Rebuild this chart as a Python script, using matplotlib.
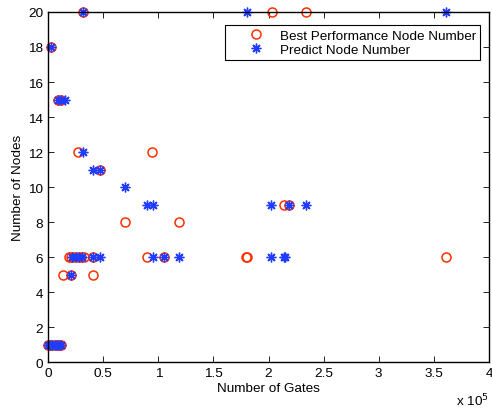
import numpy as np
import matplotlib.pyplot as plt

plt.rcParams['font.family'] = ['Liberation Sans', 'DejaVu Sans']

# best performing node count per circuit (gate count, nodes)
best_gates = [32000, 203000, 234000,
              2700,
              11500, 9000,
              27000, 94500,
              47000,
              214000, 219000,
              70000, 118500,
              19000, 21000, 24000, 27000, 30000, 33000, 41000, 89700, 105000, 180600, 180000, 361000,
              13300, 20600, 41000,
              0, 2000, 4000, 6000, 8000, 10000, 12000]
best_nodes = [20, 20, 20,
              18,
              15, 15,
              12, 12,
              11,
              9, 9,
              8, 8,
              6, 6, 6, 6, 6, 6, 6, 6, 6, 6, 6, 6,
              5, 5, 5,
              1, 1, 1, 1, 1, 1, 1]

# predicted node count per circuit
pred_gates = [32000, 180600, 361000,
              2700,
              9000, 12000, 15000,
              32000,
              41000, 47000,
              70000,
              89700, 95200, 202000, 219000, 234000,
              22000, 25000, 28000, 31000, 41000, 47000, 95200, 105000, 118500, 202000, 214000, 215000,
              20600,
              0, 2000, 4000, 6000, 8000, 10000, 12000]
pred_nodes = [20, 20, 20,
              18,
              15, 15, 15,
              12,
              11, 11,
              10,
              9, 9, 9, 9, 9,
              6, 6, 6, 6, 6, 6, 6, 6, 6, 6, 6, 6,
              5,
              1, 1, 1, 1, 1, 1, 1]

fs = 9.7

fig = plt.figure(figsize=(4.92, 4.10), dpi=100)
ax = fig.add_axes([0.0976, 0.1146, 0.8964, 0.8537])

ax.plot(np.array(best_gates) / 1e5, best_nodes, 'o', mfc='none', mec='#ff3000',
        ms=6.5, mew=1.1, label='Best Performance Node Number', clip_on=False)
ax.plot(np.array(pred_gates) / 1e5, pred_nodes, ls='none', marker=(8, 2, 0), color='#1f3cff',
        ms=7, mew=1.0, label='Predict Node Number', clip_on=False)

ax.set_xlim(0, 4)
ax.set_ylim(0, 20)
ax.set_xticks(np.arange(0, 4.01, 0.5))
ax.set_xticklabels(['0', '0.5', '1', '1.5', '2', '2.5', '3', '3.5', '4'])
ax.set_yticks(range(0, 21, 2))
ax.tick_params(direction='in', top=True, right=True, labelsize=fs, length=4, width=0.6)
for s in ax.spines.values():
    s.set_linewidth(1.0)

ax.set_xlabel('Number of Gates', fontsize=fs, labelpad=2)
ax.set_ylabel('Number of Nodes', fontsize=fs, labelpad=3)
ax.text(1.0, -0.085, r'x 10$^5$', transform=ax.transAxes, ha='right', va='top', fontsize=fs)

leg = ax.legend(loc='upper right', fontsize=fs, fancybox=False, edgecolor='black',
                framealpha=1, borderpad=0.3, handlelength=4.0, handletextpad=-0.2,
                labelspacing=0.1, numpoints=1, bbox_to_anchor=(0.9955, 0.981))
leg.get_frame().set_linewidth(0.8)

fig.savefig('out.png', dpi=100)
